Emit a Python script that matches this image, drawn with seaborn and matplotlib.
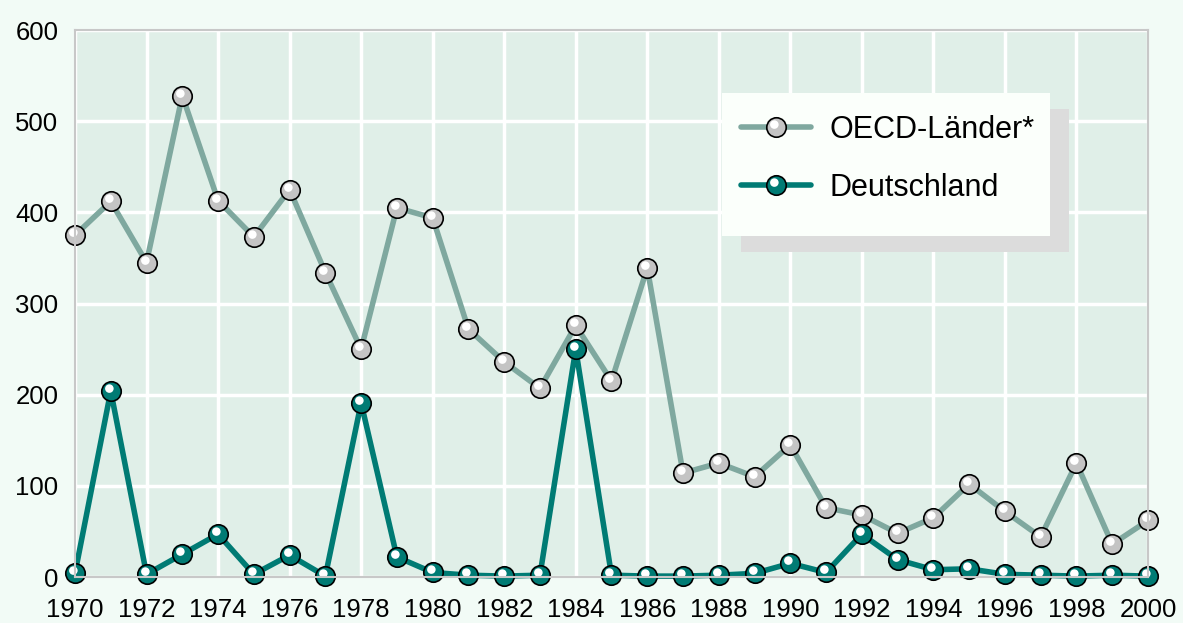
import pandas as pd
import seaborn as sns
import matplotlib.pyplot as plt
from matplotlib.path import Path
from matplotlib.patches import Rectangle
from matplotlib.legend_handler import HandlerTuple

years = list(range(1970, 2001))
oecd = [375, 412, 345, 528, 413, 373, 425, 334, 250, 405,
        394, 272, 236, 207, 276, 215, 339, 114, 125, 110,
        145, 76, 68, 48, 65, 102, 72, 44, 125, 36, 62]
deutschland = [4, 204, 3, 25, 47, 3, 24, 1, 191, 22,
               5, 2, 1, 2, 250, 2, 1, 1, 2, 4,
               15, 5, 47, 19, 8, 9, 3, 2, 1, 2, 1]
series_names = ['OECD-Länder*', 'Deutschland']
x_ticks = list(range(1970, 2001, 2))
y_ticks = list(range(0, 601, 100))

df = pd.DataFrame({'Jahr': years, series_names[0]: oecd, series_names[1]: deutschland})

sns.set_theme(style='darkgrid')
plt.rcParams['font.family'] = ['Liberation Sans', 'DejaVu Sans']

fig = plt.figure(figsize=(11.83, 6.23), dpi=100, facecolor='#f2fbf6')
ax = fig.add_axes([0.0634, 0.0738, 0.9070, 0.878])
ax.set_facecolor('#e0efe8')

# small white glint on the balls (offset circle, padded so it scales like the ball)
glint = Path.make_compound_path(
    Path.circle((-0.22, 0.3), 0.44),
    Path([(-1, -1), (1, 1)], [Path.MOVETO, Path.MOVETO]))

styles = [
    (series_names[0], '#7fa89f', '#c4c4c4'),
    (series_names[1], '#007b74', '#007b74'),
]
handles = []
for name, line_col, face_col in styles:
    sns.lineplot(data=df, x='Jahr', y=name, ax=ax, color=line_col, linewidth=4.0,
                 marker='o', markersize=14, markerfacecolor=face_col,
                 markeredgecolor='black', markeredgewidth=1.2, clip_on=False)
    main = ax.lines[-1]
    hl, = ax.plot(df['Jahr'], df[name], linestyle='', marker=glint, markersize=14,
                  markerfacecolor='white', markeredgewidth=0, clip_on=False)
    handles.append((main, hl))

ax.set_xlim(1970, 2000)
ax.set_ylim(0, 600)
ax.set_xticks(x_ticks)
ax.set_yticks(y_ticks)
ax.set_xlabel('')
ax.set_ylabel('')
ax.grid(color='white', linewidth=2.5)
ax.tick_params(length=0, labelsize=18.5, colors='black')
ax.tick_params(axis='x', pad=15)
ax.tick_params(axis='y', pad=12)
for sp in ax.spines.values():
    sp.set_visible(True)
    sp.set_color('#c8c8c8')
    sp.set_linewidth(1.5)

leg = ax.legend(handles, series_names, handler_map={tuple: HandlerTuple(ndivide=1)},
                loc='upper left', bbox_to_anchor=(0.6207, 0.8446), fontsize=22,
                frameon=False, borderpad=0, handlelength=2.3,
                handletextpad=0.6, labelspacing=0.9, borderaxespad=0)
for t in leg.get_texts():
    t.set_color('black')
leg.set_zorder(6)

# legend box and its drop shadow, padded around the legend contents
fig.canvas.draw()
bb = leg.get_window_extent()
inv = ax.transAxes.inverted()
bx0, by0, bx1, by1 = bb.x0 - 19, bb.y0 - 33, bb.x1 + 15, bb.y1 + 22
for dx, dy, col, z in [(19, -16, '#dcdcdc', 5.5), (0, 0, '#fbfffb', 5.8)]:
    (x0, y0), (x1, y1) = inv.transform([(bx0 + dx, by0 + dy), (bx1 + dx, by1 + dy)])
    ax.add_patch(Rectangle((x0, y0), x1 - x0, y1 - y0, transform=ax.transAxes,
                           facecolor=col, edgecolor='none', zorder=z, clip_on=False))

fig.savefig('out.png', dpi=100, facecolor=fig.get_facecolor())
